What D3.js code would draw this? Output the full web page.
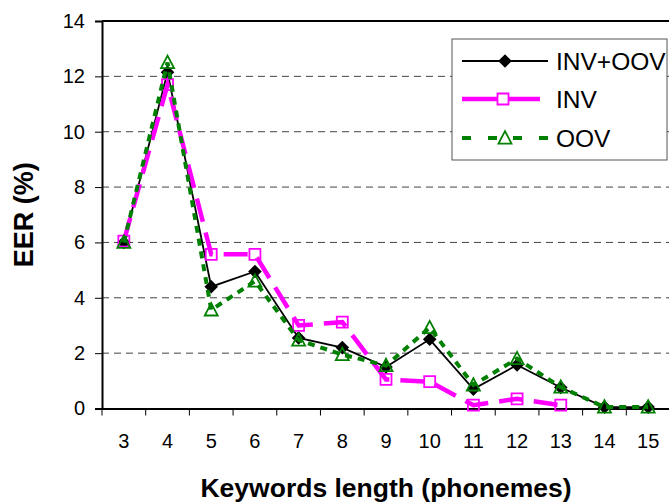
<!DOCTYPE html>
<html>
<head>
<meta charset="utf-8">
<script src="https://cdn.jsdelivr.net/npm/d3@7/dist/d3.min.js"></script>
<style>
  html, body { margin: 0; padding: 0; background: #fff; }
  svg { display: block; font-family: "Liberation Sans", Arial, sans-serif; }
</style>
</head>
<body>
<svg id="chart" width="669" height="504"></svg>
<script>
// Keyword length in phonemes
const categories = ["3", "4", "5", "6", "7", "8", "9", "10", "11", "12", "13", "14", "15"];
// EER (%) per keyword length
const invOovValues = [6.0, 12.15, 4.4, 4.95, 2.55, 2.2, 1.5, 2.5, 0.7, 1.57, 0.76, 0.05, 0.05];
const invValues    = [6.05, 11.7, 5.57, 5.57, 3.0, 3.12, 1.05, 0.97, 0.12, 0.35, 0.12];
const oovValues    = [6.0, 12.5, 3.56, 4.6, 2.47, 1.95, 1.55, 2.92, 0.85, 1.8, 0.77, 0.05, 0.05];
const yTicks = [0, 2, 4, 6, 8, 10, 12, 14];
const seriesNames = ["INV+OOV", "INV", "OOV"];

const svg = d3.select("#chart");
const plotLeft = 102, plotRight = 670, plotTop = 21, plotBottom = 408.5;

const x = d3.scaleBand().domain(categories).range([plotLeft, plotRight]).padding(0);
const y = d3.scaleLinear().domain([0, 14]).range([plotBottom, plotTop]);
const cx = c => x(c) + x.bandwidth() / 2;

// horizontal dashed grid
svg.append("g")
  .selectAll("line")
  .data(yTicks.filter(t => t > 0 && t < 14))
  .join("line")
  .attr("x1", plotLeft).attr("x2", plotRight)
  .attr("y1", d => y(d)).attr("y2", d => y(d))
  .attr("stroke", "#444").attr("stroke-width", 1)
  .attr("stroke-dasharray", "7,5");

// top frame
svg.append("line")
  .attr("x1", plotLeft).attr("x2", plotRight)
  .attr("y1", y(14)).attr("y2", y(14))
  .attr("stroke", "#000").attr("stroke-width", 2);

// y axis
const yAxis = svg.append("g")
  .attr("transform", `translate(${plotLeft},0)`)
  .call(d3.axisLeft(y).tickValues(yTicks).tickSize(7).tickPadding(10));
yAxis.select(".domain").attr("stroke", "#000").attr("stroke-width", 2);
yAxis.selectAll(".tick line").attr("stroke", "#000").attr("stroke-width", 1);
yAxis.selectAll(".tick text")
  .attr("font-size", 20).attr("fill", "#000")
  .attr("font-family", "Liberation Sans, Arial, sans-serif");

// x axis: ticks sit on category boundaries, labels at category centres
const xAxis = svg.append("g")
  .attr("transform", `translate(0,${plotBottom})`)
  .call(d3.axisBottom(x).tickSize(0).tickPadding(25));
xAxis.select(".domain").attr("stroke", "#000").attr("stroke-width", 2);
xAxis.selectAll(".tick text")
  .attr("font-size", 20).attr("fill", "#000")
  .attr("font-family", "Liberation Sans, Arial, sans-serif");
xAxis.selectAll(".boundary")
  .data(categories)
  .join("line")
  .attr("class", "boundary")
  .attr("x1", d => x(d)).attr("x2", d => x(d))
  .attr("y1", 0).attr("y2", 7)
  .attr("stroke", "#000").attr("stroke-width", 1);

// axis titles
svg.append("text")
  .attr("transform", `translate(33,${(plotTop + plotBottom) / 2}) rotate(-90)`)
  .attr("text-anchor", "middle")
  .attr("font-size", 27).attr("font-weight", "bold")
  .text("EER (%)");
svg.append("text")
  .attr("x", (plotLeft + plotRight) / 2).attr("y", 497)
  .attr("text-anchor", "middle")
  .attr("font-size", 26.5).attr("font-weight", "bold")
  .text("Keywords length (phonemes)");

const line = d3.line().x(d => cx(d.c)).y(d => y(d.v));
const toPts = vals => vals.map((v, i) => ({ c: categories[i], v }));

const invOovPts = toPts(invOovValues);
const invPts = toPts(invValues);
const oovPts = toPts(oovValues);

const diamondPath = s => `M0,${-s}L${s},0L0,${s}L${-s},0Z`;
const squarePath = s => `M${-s},${-s}H${s}V${s}H${-s}Z`;
const trianglePath = s => `M0,${-s * 1.05}L${s},${s * 0.85}L${-s},${s * 0.85}Z`;

// INV+OOV: solid black with filled diamonds
svg.append("path").datum(invOovPts)
  .attr("d", line).attr("fill", "none")
  .attr("stroke", "#000").attr("stroke-width", 1.8);
svg.append("g").selectAll("path").data(invOovPts).join("path")
  .attr("transform", d => `translate(${cx(d.c)},${y(d.v)})`)
  .attr("d", diamondPath(6.8)).attr("fill", "#000");

// INV: long magenta dashes with open squares
svg.append("path").datum(invPts)
  .attr("d", line).attr("fill", "none")
  .attr("stroke", "#FF00FF").attr("stroke-width", 4.5)
  .attr("stroke-dasharray", "24,11");
svg.append("g").selectAll("path").data(invPts).join("path")
  .attr("transform", d => `translate(${cx(d.c)},${y(d.v)})`)
  .attr("d", squarePath(5.5)).attr("fill", "none")
  .attr("stroke", "#FF00FF").attr("stroke-width", 1.8);

// OOV: short green dashes with open triangles
svg.append("path").datum(oovPts)
  .attr("d", line).attr("fill", "none")
  .attr("stroke", "#008000").attr("stroke-width", 4)
  .attr("stroke-dasharray", "7,6");
svg.append("g").selectAll("path").data(oovPts).join("path")
  .attr("transform", d => `translate(${cx(d.c)},${y(d.v)})`)
  .attr("d", trianglePath(6.5)).attr("fill", "none")
  .attr("stroke", "#008000").attr("stroke-width", 1.8);

// legend
const lg = svg.append("g");
lg.append("rect")
  .attr("x", 452).attr("y", 39).attr("width", 215).attr("height", 121)
  .attr("fill", "#fff").attr("stroke", "#555").attr("stroke-width", 1);
const rowY = [61, 99, 138];
const lx1 = 462, lx2 = 548, lmid = 505;

lg.append("line").attr("x1", lx1).attr("x2", lx2).attr("y1", rowY[0]).attr("y2", rowY[0])
  .attr("stroke", "#000").attr("stroke-width", 1.8);
lg.append("path").attr("transform", `translate(${lmid},${rowY[0]})`)
  .attr("d", diamondPath(6.8)).attr("fill", "#000");

lg.append("line").attr("x1", lx1).attr("x2", lx2 - 8).attr("y1", rowY[1]).attr("y2", rowY[1])
  .attr("stroke", "#FF00FF").attr("stroke-width", 4.5);
lg.append("path").attr("transform", `translate(${lmid - 2},${rowY[1]})`)
  .attr("d", squarePath(5.5)).attr("fill", "#fff")
  .attr("stroke", "#FF00FF").attr("stroke-width", 1.8);

lg.append("line").attr("x1", lx1).attr("x2", 497).attr("y1", rowY[2]).attr("y2", rowY[2])
  .attr("stroke", "#008000").attr("stroke-width", 4).attr("stroke-dasharray", "9,17");
lg.append("line").attr("x1", lx2).attr("x2", 513).attr("y1", rowY[2]).attr("y2", rowY[2])
  .attr("stroke", "#008000").attr("stroke-width", 4).attr("stroke-dasharray", "9,17");
lg.append("path").attr("transform", `translate(${lmid},${rowY[2]})`)
  .attr("d", trianglePath(6.5)).attr("fill", "#fff")
  .attr("stroke", "#008000").attr("stroke-width", 1.8);

lg.selectAll("text.lab").data(seriesNames).join("text")
  .attr("class", "lab")
  .attr("x", 556).attr("y", (d, i) => rowY[i] + 8.5)
  .attr("font-size", 24.5).attr("fill", "#000")
  .text(d => d);
</script>
</body>
</html>
